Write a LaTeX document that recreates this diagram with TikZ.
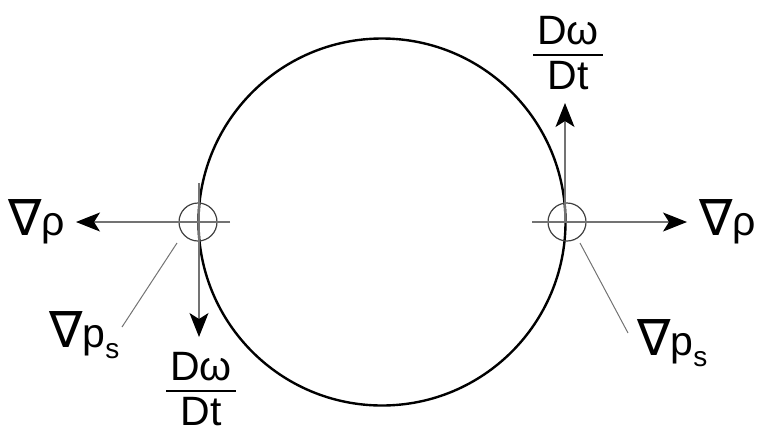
\documentclass[tikz,border=0pt]{standalone}
\usepackage{fontspec}
\setmainfont{Liberation Sans}
\newfontfamily\nablafont{DejaVu Sans}
\usetikzlibrary{arrows.meta}
\tikzset{
  vec/.style={draw=black!55,line width=1.2pt,-{Stealth[length=24pt,width=19pt,inset=6pt,color=black]}},
  lead/.style={draw=black!55,line width=1pt},
  ring/.style={circle,draw=black!75,line width=1.2pt,minimum size=38pt,inner sep=0pt},
  lbl/.style={font=\fontsize{41}{49}\selectfont,inner sep=0pt}
}
\newcommand\nablasym{{\fontsize{50}{50}\nablafont ∇}}
\newcommand\ddtfrac{\setlength\tabcolsep{4pt}\setlength\arrayrulewidth{1.2pt}%
  \renewcommand\arraystretch{0}%
  \begin{tabular}{c}Dω\rule[-10pt]{0pt}{10pt}\\\hline\rule{0pt}{34pt}Dt\end{tabular}}

\begin{document}
\begin{tikzpicture}[x=1pt,y=-1pt,
  bubble/.style={circle,draw=black,line width=2.4pt,minimum size=367pt,inner sep=0pt}
]
\useasboundingbox (0,0) rectangle (757,432);

\node[bubble] (drop) at (382,222) {};
\node[ring] (lpt) at (198,222) {};
\node[ring] (rpt) at (567,222) {};

% arrow ends
\coordinate (lh0) at (230,222);  \coordinate (lh1) at (76,222);
\coordinate (lv0) at (199,183);  \coordinate (lv1) at (199,337);
\coordinate (rh0) at (532,222);  \coordinate (rh1) at (687,222);
\coordinate (rv0) at (565,222);  \coordinate (rv1) at (565,103);
\coordinate (lf0) at (177,243);  \coordinate (lf1) at (122,327);
\coordinate (rf0) at (580,243);  \coordinate (rf1) at (628,333);

\draw[vec] (lh0) -- (lh1);
\draw[vec] (lv0) -- (lv1);
\draw[vec] (rh0) -- (rh1);
\draw[vec] (rv0) -- (rv1);
\draw[lead] (lf0) -- (lf1);
\draw[lead] (rf0) -- (rf1);

\node[lbl,anchor=base west] (lrho) at (8,235) {\nablasym ρ};
\node[lbl,anchor=base west] (rrho) at (699,235) {\nablasym ρ};
\node[lbl,anchor=base west] (lps) at (49,347) {\nablasym p\raisebox{-11pt}{\fontsize{28}{28}\selectfont s}};
\node[lbl,anchor=base west] (rps) at (637,355) {\nablasym p\raisebox{-11pt}{\fontsize{28}{28}\selectfont s}};
\node[lbl,anchor=north] (lrate) at (201,352) {\ddtfrac};
\node[lbl,anchor=north] (rrate) at (568,16) {\ddtfrac};
\end{tikzpicture}
\end{document}
